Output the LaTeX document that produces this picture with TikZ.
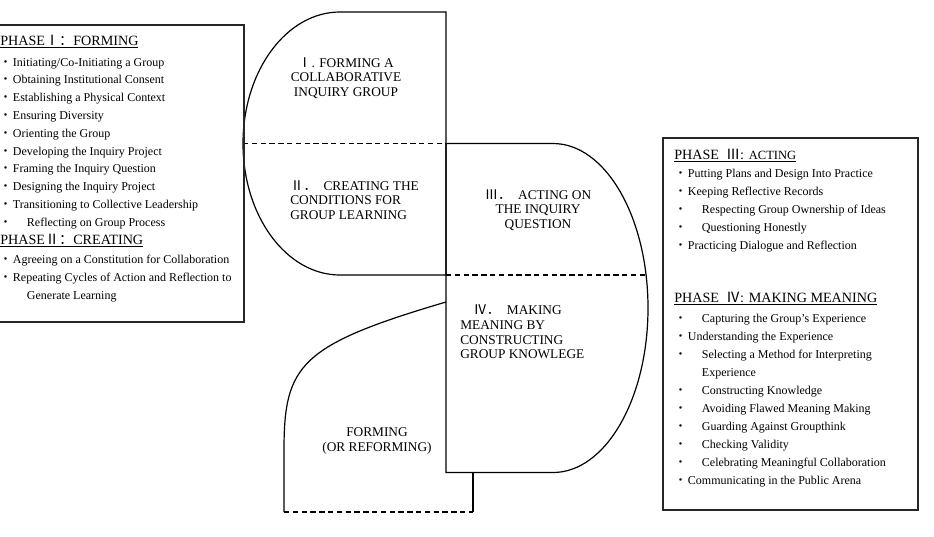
\documentclass[tikz,border=0pt]{standalone}
\usepackage{fontspec}
\setmainfont{Liberation Serif}
\newfontfamily\cjk{Noto Sans CJK SC}
\usetikzlibrary{positioning}
\tikzset{
  outline/.style={draw=black, line width=.9pt},
  divider/.style={draw=black, line width=.8pt, dash pattern=on 4pt off 2.6pt},
  panel/.style={draw=black!85, line width=1pt},
  stage/.style={font=\fontsize{10}{10.9}\selectfont, inner sep=0pt},
  item/.style={font=\fontsize{9}{10}\selectfont, anchor=base west, inner sep=0pt},
  head/.style={font=\fontsize{10.6}{11}\selectfont, anchor=base west, inner sep=0pt}
}
\newcommand{\bul}{\makebox[8pt][l]{\hspace{-2pt}{\cjk ・}}}
\newcommand{\ibul}{\makebox[18.5pt][l]{\hspace{-2pt}{\cjk ・}}}
\newcommand{\nob}{\hspace*{18.5pt}}
\begin{document}
\begin{tikzpicture}[x=0.75pt, y=0.75pt]
  \useasboundingbox (0,0) rectangle (934,-536);

  % cycle shapes
  \draw[outline] (446,-12) -- (340,-12)
    arc[start angle=90, end angle=270, x radius=97, y radius=131.5] -- (446,-275) -- cycle;
  \draw[outline] (446,-143.5) -- (553,-143.5)
    arc[start angle=90, end angle=-90, x radius=95, y radius=164.5] -- (446,-472.5) -- cycle;
  \draw[outline] (446,-302) .. controls (300,-345) and (284,-365) .. (284,-450) -- (284,-512);
  \draw[outline] (473,-472.5) -- (473,-512);
  \draw[divider] (284,-512) -- (473,-512);
  \draw[divider] (243,-143.5) -- (446,-143.5);
  \draw[divider] (446,-275) -- (646,-275);

  % stage labels
  \node[stage, align=center] (forming) at (346,-78)
    {{\cjk Ⅰ}. FORMING A\\COLLABORATIVE\\INQUIRY GROUP};
  \node[stage, align=left, anchor=west] (creating) at (290,-200)
    {{\cjk Ⅱ．}\ \ CREATING THE\\CONDITIONS FOR\\GROUP LEARNING};
  \node[stage, align=center] (acting) at (538,-210)
    {{\cjk Ⅲ．}\ \ ACTING ON\\THE INQUIRY\\QUESTION};
  \node[stage, align=left, anchor=west] (meaning) at (460,-332)
    {\hspace*{10pt}{\cjk Ⅳ．}\ \ MAKING\\MEANING BY\\CONSTRUCTING\\GROUP KNOWLEGE};
  \node[stage, align=center] (reforming) at (377,-441)
    {FORMING\\(OR REFORMING)};

  % left panel
  \draw[panel] (-3,-25) rectangle (244,-322);
  \node[head] (headI) at (0,-45.5) {\underline{PHASE{\cjk Ⅰ：}FORMING}};
  \foreach \txt [count=\i] in {
      {\bul Initiating/Co-Initiating a Group},
      {\bul Obtaining Institutional Consent},
      {\bul Establishing a Physical Context},
      {\bul Ensuring Diversity},
      {\bul Orienting the Group},
      {\bul Developing the Inquiry Project},
      {\bul Framing the Inquiry Question},
      {\bul Designing the Inquiry Project},
      {\bul Transitioning to Collective Leadership},
      {\ibul Reflecting on Group Process}}
    \node[item] (formI-\i) at (2,{-48.2-17.8*\i}) {\txt};
  \node[head] (headII) at (0,-244.5) {\underline{PHASE{\cjk Ⅱ：}CREATING}};
  \foreach \txt [count=\i] in {
      {\bul Agreeing on a Constitution for Collaboration},
      {\bul Repeating Cycles of Action and Reflection to},
      {\nob Generate Learning}}
    \node[item] (createII-\i) at (2,{-245.7-17.8*\i}) {\txt};

  % right panel
  \draw[panel] (663,-138) rectangle (918,-510);
  \node[head] (headIII) at (674,-159.5)
    {\underline{PHASE\ \ {\cjk Ⅲ}: {\fontsize{9.4}{10}\selectfont ACTING}}};
  \foreach \txt [count=\i] in {
      {\bul Putting Plans and Design Into Practice},
      {\bul Keeping Reflective Records},
      {\ibul Respecting Group Ownership of Ideas},
      {\ibul Questioning Honestly},
      {\bul Practicing Dialogue and Reflection}}
    \node[item] (actIII-\i) at (677,{-159.5-18*\i}) {\txt};
  \node[head] (headIV) at (674,-302.5)
    {\underline{PHASE\ \ {\cjk Ⅳ}: MAKING MEANING}};
  \foreach \txt [count=\i] in {
      {\ibul Capturing the Group's Experience},
      {\bul Understanding the Experience},
      {\ibul Selecting a Method for Interpreting},
      {\nob Experience},
      {\ibul Constructing Knowledge},
      {\ibul Avoiding Flawed Meaning Making},
      {\ibul Guarding Against Groupthink},
      {\ibul Checking Validity},
      {\ibul Celebrating Meaningful Collaboration},
      {\bul Communicating in the Public Arena}}
    \node[item] (meanIV-\i) at (677,{-304.5-18*\i}) {\txt};
\end{tikzpicture}
\end{document}
